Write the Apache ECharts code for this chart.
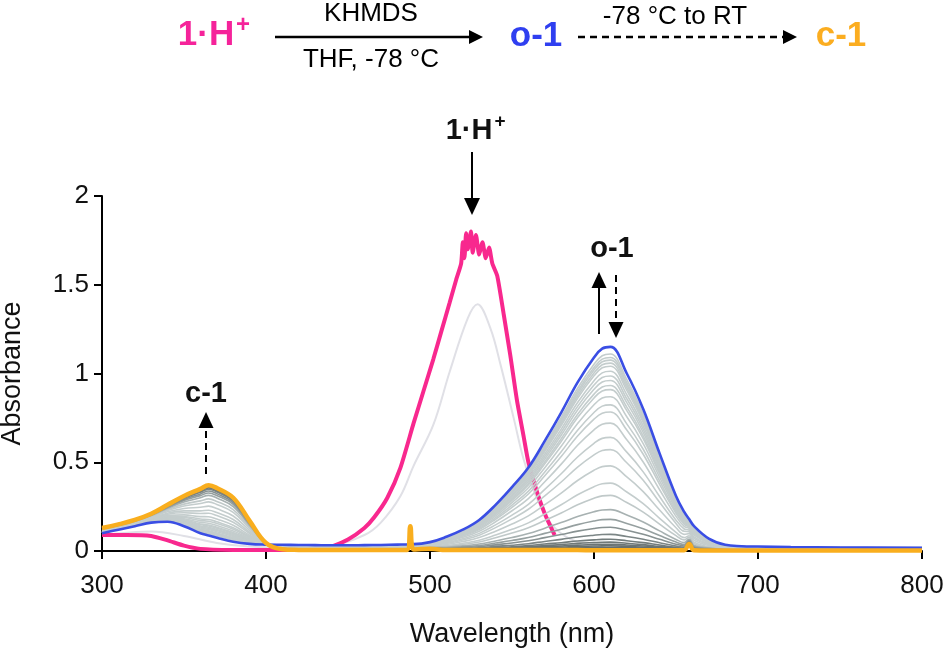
<!DOCTYPE html>
<html>
<head>
<meta charset="utf-8">
<script src="https://cdn.jsdelivr.net/npm/echarts@6/dist/echarts.min.js"></script>
<style>
  html, body { margin: 0; padding: 0; background: #fff; }
  #chart { width: 950px; height: 648px; }
</style>
</head>
<body>
<div id="chart"></div>
<script>
/* ---------- data ---------- */
// common wavelength grid for o-1 / c-1 and the gray time series
const wl = [300,310,320,330,340,350,360,365,370,380,390,400,410,420,430,440,450,460,470,480,486,488,490,
  500,510,520,530,540,550,560,570,580,590,600,605,610,620,630,640,650,655,658,661,670,680,690,700,720,750,800];

// o-1 (blue, maximum)
const o1Abs = [0.10,0.12,0.14,0.16,0.165,0.14,0.10,0.087,0.075,0.052,0.04,0.036,0.035,0.034,0.033,0.032,0.032,0.033,0.034,0.036,0.037,0.046,0.039,
  0.05,0.08,0.12,0.175,0.26,0.36,0.47,0.62,0.78,0.95,1.09,1.14,1.15,1.0,0.80,0.55,0.31,0.22,0.18,0.14,0.07,0.035,0.027,0.025,0.022,0.02,0.018];

// c-1 (orange, final)
const c1Abs = [0.13,0.15,0.175,0.21,0.26,0.31,0.35,0.37,0.355,0.30,0.17,0.045,0.01,0.006,0.005,0.005,0.005,0.006,0.006,0.005,0.006,0.14,0.008,
  0.012,0.006,0.006,0.005,0.006,0.005,0.005,0.006,0.005,0.005,0.004,0.004,0.004,0.004,0.004,0.004,0.004,0.004,0.04,0.004,0.003,0.003,0.003,0.003,0.003,0.003,0.003];

// 1·H+ (pink, start)
const hWl  = [300,315,330,340,350,360,380,420,432,440,450,460,466,474,482,490,496,502,507,512,516,519,520,521,522,523,525,526,528,530,532,534,536,538,541,545,549,553,557,560,565,570,576];
const hAbs = [0.09,0.09,0.085,0.06,0.03,0.012,0.006,0.005,0.01,0.025,0.065,0.13,0.19,0.30,0.47,0.72,0.90,1.08,1.24,1.40,1.53,1.62,1.74,1.65,1.79,1.70,1.80,1.68,1.78,1.67,1.74,1.65,1.71,1.62,1.55,1.33,1.10,0.85,0.65,0.50,0.34,0.21,0.09];

// first spectrum after base addition (light gray)
const firstWl  = [300,330,350,370,390,420,440,460,470,482,490,502,512,523,529,537,543,551,557,565,575,590,610,700,800];
const firstAbs = [0.09,0.11,0.085,0.045,0.025,0.02,0.03,0.09,0.16,0.31,0.48,0.71,1.01,1.31,1.39,1.25,1.05,0.75,0.52,0.30,0.14,0.05,0.03,0.022,0.02];

// o-1 fraction of each gray spectrum (from the peak heights at 608 nm)
const o1Fraction = [0.965,0.948,0.935,0.92,0.905,0.88,0.857,0.835,0.81,0.79,0.755,0.715,0.68,0.625,0.555,
  0.495,0.415,0.33,0.27,0.20,0.152,0.113,0.078,0.054,0.04,0.03,0.022,0.015,0.008,0.004];
// c-1 fraction of each gray spectrum
const c1Fraction = [0.035,0.052,0.065,0.08,0.095,0.12,0.143,0.165,0.19,0.21,0.245,0.285,0.32,0.375,0.445,
  0.505,0.585,0.67,0.73,0.80,0.848,0.887,0.922,0.946,0.958,0.97,0.978,0.985,0.992,0.996];

const xTicks = [300, 400, 500, 600, 700, 800];

/* ---------- build series ---------- */
const zip = (xs, ys) => xs.map((x, i) => [x, ys[i]]);

function grayColor(b) {
  const t = Math.max(0, Math.min(1, (b - 0.72) / 0.28));
  const c0 = [196, 205, 205], c1 = [96, 106, 106];
  const m = c0.map((v, k) => Math.round(v + (c1[k] - v) * t));
  return `rgb(${m[0]},${m[1]},${m[2]})`;
}

const series = [];

series.push({
  type: 'line', data: zip(firstWl, firstAbs), showSymbol: false, smooth: 0.35,
  lineStyle: { color: '#e0e0e6', width: 2 }, z: 1, silent: true
});
series.push({
  type: 'line', data: zip(hWl, hAbs), showSymbol: false, smooth: 0.2,
  lineStyle: { color: '#f8288e', width: 4 }, z: 2, silent: true
});

o1Fraction.forEach((a, i) => {
  const b = c1Fraction[i];
  series.push({
    type: 'line',
    data: wl.map((x, j) => [x, a * o1Abs[j] + b * c1Abs[j]]),
    showSymbol: false, smooth: 0.4,
    lineStyle: { color: grayColor(b), width: 1.6 }, z: 3, silent: true
  });
});

series.push({
  type: 'line', data: zip(wl, o1Abs), showSymbol: false, smooth: 0.4,
  lineStyle: { color: '#3a4ee4', width: 2.6 }, z: 4, silent: true
});
series.push({
  type: 'line', data: zip(wl, c1Abs), showSymbol: false, smooth: 0.4,
  lineStyle: { color: '#f9ae1e', width: 4.5 }, z: 5, silent: true
});

/* ---------- annotation helpers ---------- */
function arrow(x1, y1, x2, y2, dashed, headLen, headW, width) {
  const dx = x2 - x1, dy = y2 - y1, L = Math.hypot(dx, dy);
  const ux = dx / L, uy = dy / L;
  const bx = x2 - ux * headLen, by = y2 - uy * headLen;
  return [
    { type: 'line', shape: { x1, y1, x2: bx, y2: by },
      style: { stroke: '#000', lineWidth: width || 2, lineDash: dashed ? [7, 5] : null }, z: 100 },
    { type: 'polygon', shape: { points: [[x2, y2], [bx - uy * headW / 2, by + ux * headW / 2], [bx + uy * headW / 2, by - ux * headW / 2]] },
      style: { fill: '#000' }, z: 100 }
  ];
}
function txt(x, y, text, size, color, weight, family, align) {
  return { type: 'text', x, y, z: 100,
    style: { text, fontSize: size, fill: color || '#000', fontWeight: weight || 'normal',
      fontFamily: family || '"Liberation Sans", Arial, sans-serif', align: align || 'center', verticalAlign: 'middle' } };
}

const AF = '"Liberation Sans", Arial, sans-serif';
const graphic = [
  // reaction scheme
  txt(206, 35, '1·H', 35, '#f5239a', 'bold', AF),
  txt(243, 25, '+', 24, '#f5239a', 'bold', AF),
  txt(371, 14, 'KHMDS', 26, '#000', 'normal', AF),
  txt(371, 60, 'THF, -78 °C', 26, '#000', 'normal', AF),
  ...arrow(275, 37, 483, 37, false, 14, 14, 2.4),
  txt(536, 36, 'o-1', 35, '#2f3ff0', 'bold', AF),
  ...arrow(578, 37, 797, 37, true, 14, 14, 2.4),
  txt(675, 17, '-78 °C to RT', 26, '#000', 'normal', AF),
  txt(841, 36, 'c-1', 35, '#fbad20', 'bold', AF),

  // in-plot labels
  txt(469, 131, '1·H', 29, '#111', 'bold', AF),
  txt(500, 122, '+', 19, '#111', 'bold', AF),
  ...arrow(472, 152, 472, 215, false, 17, 16, 2),
  txt(612, 249, 'o-1', 29, '#111', 'bold', AF),
  ...arrow(599, 334, 599, 272, false, 16, 15, 2),
  ...arrow(616, 275, 616, 338, true, 16, 15, 2),
  txt(206, 394, 'c-1', 29, '#111', 'bold', AF),
  ...arrow(206, 474, 206, 412, true, 16, 15, 2)
];

/* ---------- chart ---------- */
const chart = echarts.init(document.getElementById('chart'), null, { renderer: 'canvas' });
chart.setOption({
  animation: false,
  backgroundColor: '#fff',
  grid: { left: 102, right: 28, top: 196, bottom: 97, containLabel: false, outerBoundsMode: 'none' },
  xAxis: {
    type: 'value', min: xTicks[0], max: xTicks[xTicks.length - 1], interval: 100,
    name: 'Wavelength (nm)', nameLocation: 'middle', nameGap: 70,
    nameTextStyle: { fontSize: 27, color: '#111', fontFamily: AF },
    axisLine: { onZero: false, lineStyle: { color: '#000', width: 2 } },
    axisTick: { length: 8, lineStyle: { color: '#000', width: 2 } },
    axisLabel: { fontSize: 26, color: '#111', margin: 22, fontFamily: AF },
    splitLine: { show: false }
  },
  yAxis: {
    type: 'value', min: 0, max: 2, interval: 0.5,
    name: 'Absorbance', nameLocation: 'middle', nameGap: 76,
    nameTextStyle: { fontSize: 27, color: '#111', fontFamily: AF },
    axisLine: { show: true, lineStyle: { color: '#000', width: 2 } },
    axisTick: { show: true, length: 8, lineStyle: { color: '#000', width: 2 } },
    axisLabel: { fontSize: 26, color: '#111', margin: 13, fontFamily: AF },
    splitLine: { show: false }
  },
  series,
  graphic
});
</script>
</body>
</html>
